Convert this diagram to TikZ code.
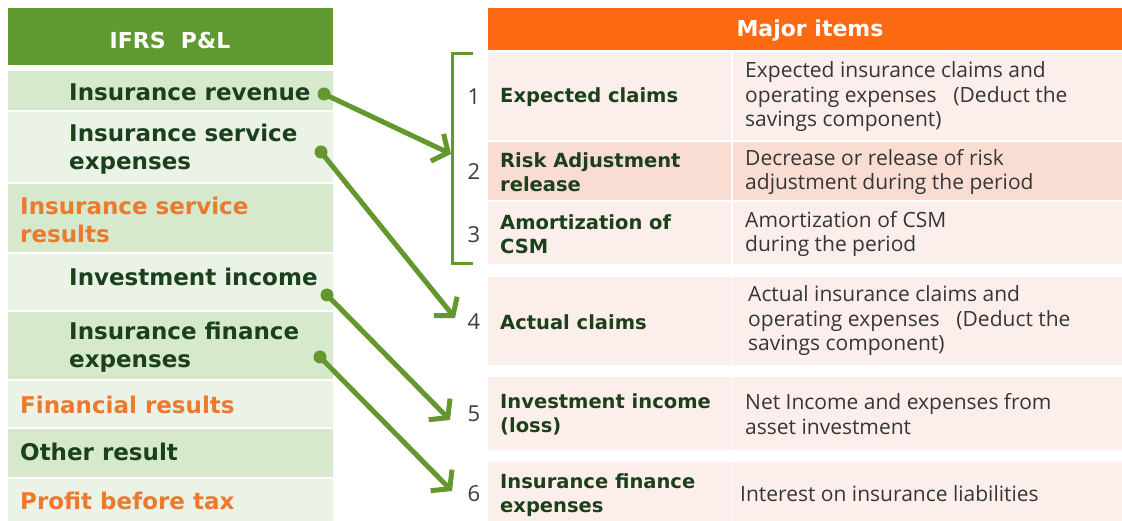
\documentclass[tikz,border=0pt]{standalone}
\usepackage{fontspec}
\setmainfont{DejaVu Sans}
\newfontfamily\descfont{Open Sans}
\usetikzlibrary{arrows.meta}

\definecolor{hdrgreen}{HTML}{5E9A2F}
\definecolor{rowmid}{HTML}{D6E9CD}
\definecolor{rowlight}{HTML}{EAF3E6}
\definecolor{txtgreen}{HTML}{1B401B}
\definecolor{txtorange}{HTML}{EB7A2E}
\definecolor{hdrorange}{HTML}{FB6A12}
\definecolor{pinklight}{HTML}{FCEEEA}
\definecolor{pinkdark}{HTML}{F9DDD3}
\definecolor{arrowgreen}{HTML}{64982F}
\definecolor{numgray}{HTML}{3C3C3C}
\definecolor{desctxt}{HTML}{363636}

\tikzset{
  cell/.style={inner sep=0pt, outer sep=0pt, anchor=north west, draw=none},
  hdrtext/.style={text=white, font=\bfseries\fontsize{22}{26}\selectfont, inner sep=0pt},
  pllabel/.style={anchor=west, align=left, inner sep=0pt, text=txtgreen,
                  font=\bfseries\fontsize{23}{28}\selectfont},
  plresult/.style={pllabel, text=txtorange},
  itemlabel/.style={anchor=west, align=left, inner sep=0pt, text=txtgreen,
                    font=\bfseries\fontsize{19.5}{24}\selectfont},
  itemdesc/.style={anchor=west, align=left, inner sep=0pt, text=desctxt,
                   font=\descfont\fontsize{21}{24.5}\selectfont},
  itemnum/.style={inner sep=0pt, text=numgray, font=\descfont\fontsize{22}{24}\selectfont},
  dotnode/.style={circle, fill=arrowgreen, inner sep=0pt, minimum size=13pt},
  linkarrow/.style={draw=arrowgreen, line width=5pt,
                    -{Straight Barb[length=12pt,width=30pt]}},
  bracketline/.style={draw=arrowgreen, line width=3pt}
}

\begin{document}
\begin{tikzpicture}[x=1pt,y=-1pt]
\useasboundingbox (0,0) rectangle (1122,521);
\fill[white] (0,0) rectangle (1122,521);

% ---------- IFRS P&L column ----------
\node[cell, fill=hdrgreen, minimum width=325pt, minimum height=57pt] (plhead) at (8,8) {};
\node[hdrtext, anchor=center] (plheadtxt) at (170,40) {IFRS~~P\&L};

\node[cell, fill=rowmid,   minimum width=325pt, minimum height=39pt] (row1) at (8,71) {};
\node[cell, fill=rowlight, minimum width=325pt, minimum height=70pt] (row2) at (8,112) {};
\node[cell, fill=rowmid,   minimum width=325pt, minimum height=68pt] (row3) at (8,184) {};
\node[cell, fill=rowlight, minimum width=325pt, minimum height=56pt] (row4) at (8,254) {};
\node[cell, fill=rowmid,   minimum width=325pt, minimum height=67pt] (row5) at (8,312) {};
\node[cell, fill=rowlight, minimum width=325pt, minimum height=46pt] (row6) at (8,381) {};
\node[cell, fill=rowmid,   minimum width=325pt, minimum height=48pt] (row7) at (8,429) {};
\node[cell, fill=rowlight, minimum width=325pt, minimum height=42pt] (row8) at (8,479) {};

\node[pllabel]  (pl1) at (69,92)  {Insurance revenue};
\node[pllabel]  (pl2) at (69,149) {Insurance service\\expenses};
\node[plresult] (pl3) at (20,220) {Insurance service\\results};
\node[pllabel]  (pl4) at (69,277) {Investment income};
\node[pllabel]  (pl5) at (69,347) {Insurance finance\\expenses};
\node[plresult] (pl6) at (20,405) {Financial results};
\node[pllabel]  (pl7) at (20,452) {Other result};
\node[plresult] (pl8) at (20,501) {Profit before tax};

% ---------- Major items table ----------
\node[cell, fill=hdrorange, minimum width=634pt, minimum height=42pt] (mihead) at (488,8) {};
\node[hdrtext, anchor=center] (miheadtxt) at (810,31) {Major items};

% items 1-3 (two cells each)
\node[cell, fill=pinklight, minimum width=243pt, minimum height=88pt] (a1) at (488,52) {};
\node[cell, fill=pinklight, minimum width=389pt, minimum height=88pt] (b1) at (733,52) {};
\node[cell, fill=pinkdark,  minimum width=243pt, minimum height=58pt] (a2) at (488,142) {};
\node[cell, fill=pinkdark,  minimum width=389pt, minimum height=58pt] (b2) at (733,142) {};
\node[cell, fill=pinklight, minimum width=243pt, minimum height=62pt] (a3) at (488,202) {};
\node[cell, fill=pinklight, minimum width=389pt, minimum height=62pt] (b3) at (733,202) {};
% items 4-6
\node[cell, fill=pinklight, minimum width=244pt, minimum height=88pt] (a4) at (488,277) {};
\node[cell, fill=pinklight, minimum width=389pt, minimum height=88pt] (b4) at (733,277) {};
\node[cell, fill=pinklight, minimum width=244pt, minimum height=73pt] (a5) at (488,377) {};
\node[cell, fill=pinklight, minimum width=389pt, minimum height=73pt] (b5) at (733,377) {};
\node[cell, fill=pinklight, minimum width=244pt, minimum height=59pt] (a6) at (488,462) {};
\node[cell, fill=pinklight, minimum width=389pt, minimum height=59pt] (b6) at (733,462) {};

\node[itemnum] (n1) at (474,97)  {1};
\node[itemnum] (n2) at (474,172) {2};
\node[itemnum] (n3) at (474,235) {3};
\node[itemnum] (n4) at (474,322) {4};
\node[itemnum] (n5) at (474,414) {5};
\node[itemnum] (n6) at (474,494) {6};

\node[itemlabel] (l1) at (500,97)  {Expected claims};
\node[itemlabel] (l2) at (500,172) {Risk Adjustment\\release};
\node[itemlabel] (l3) at (500,234) {Amortization of\\CSM};
\node[itemlabel] (l4) at (500,322) {Actual claims};
\node[itemlabel] (l5) at (500,414) {Investment income\\(loss)};
\node[itemlabel] (l6) at (500,495) {Insurance finance\\expenses};

\node[itemdesc] (e1) at (745,97)  {Expected insurance claims and\\operating expenses\hspace{0.8em}(Deduct the\\savings component)};
\node[itemdesc] (e2) at (745,172) {Decrease or release of risk\\adjustment during the period};
\node[itemdesc] (e3) at (745,234) {Amortization of CSM\\during the period};
\node[itemdesc] (e4) at (748,321) {Actual insurance claims and\\operating expenses\hspace{0.8em}(Deduct the\\savings component)};
\node[itemdesc] (e5) at (745,414) {Net Income and expenses from\\asset investment};
\node[itemdesc] (e6) at (740,494) {Interest on insurance liabilities};

% bracket grouping items 1-3
\draw[bracketline] (473,54) -- (452,54) -- (452,264) -- (473,264);

% ---------- links ----------
\node[dotnode] (d1) at (324,94)  {};
\node[dotnode] (d2) at (321,152) {};
\node[dotnode] (d3) at (327,295) {};
\node[dotnode] (d4) at (320,357) {};
\coordinate (t1) at (451,154);
\coordinate (t2) at (455,318);
\coordinate (t3) at (450,420);
\coordinate (t4) at (452,491);

\draw[linkarrow] (d1.center) -- (t1);
\draw[linkarrow] (d2.center) -- (t2);
\draw[linkarrow] (d3.center) -- (t3);
\draw[linkarrow] (d4.center) -- (t4);
\end{tikzpicture}
\end{document}
